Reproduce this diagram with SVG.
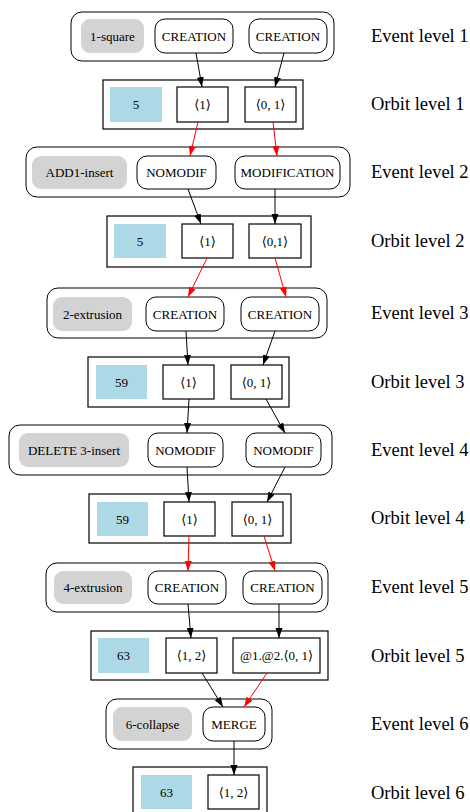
<svg xmlns="http://www.w3.org/2000/svg" width="470" height="812" viewBox="0 0 470 812">
  <style>
    text { font-family: "Liberation Serif", "DejaVu Serif", serif; fill: #000; }
    .t { font-size: 13px; text-anchor: middle; dominant-baseline: central; }
    .lvl { font-size: 18.5px; }
    .ev { fill: #fff; stroke: #000; stroke-width: 1; }
    .orb { fill: #fff; stroke: #000; stroke-width: 1.2; }
    .op { fill: #d3d3d3; stroke: none; }
    .dart { fill: #fff; stroke: #000; stroke-width: 1; }
    .cnt { fill: #add8e6; stroke: none; }
    .item { fill: #fff; stroke: #000; stroke-width: 1.2; }
    .k { stroke: #000; stroke-width: 1; fill: none; marker-end: url(#ak); }
    .r { stroke: #ff0000; stroke-width: 1; fill: none; marker-end: url(#ar); }
  </style>
  <defs>
    <marker id="ak" markerUnits="userSpaceOnUse" markerWidth="10" markerHeight="8" refX="10" refY="3.5" orient="auto">
      <path d="M0,0 L10,3.5 L0,7 z" fill="#000"/>
    </marker>
    <marker id="ar" markerUnits="userSpaceOnUse" markerWidth="10" markerHeight="8" refX="10" refY="3.5" orient="auto">
      <path d="M0,0 L10,3.5 L0,7 z" fill="#ff0000"/>
    </marker>
  </defs>
  <rect width="470" height="812" fill="#fff"/>

  <!-- event level 1 -->
  <g id="event1">
    <rect class="ev" x="71" y="12" width="263" height="49" rx="11"/>
    <g id="e1_op"><rect class="op" x="81" y="19" width="63" height="34" rx="9"/><text class="t" x="112.5" y="36" fill="#222">1-square</text></g>
    <g id="e1_a"><rect class="dart" x="155" y="19" width="78" height="34" rx="10"/><text class="t" x="194" y="36">CREATION</text></g>
    <g id="e1_b"><rect class="dart" x="249" y="19" width="78" height="34" rx="10"/><text class="t" x="288" y="36">CREATION</text></g>
  </g>

  <!-- orbit level 1 -->
  <g id="orbit1">
    <rect class="orb" x="103" y="80" width="200" height="49"/>
    <g id="o1_n"><rect class="cnt" x="110" y="87" width="52" height="35"/><text class="t" x="136" y="104.5">5</text></g>
    <g id="o1_a"><rect class="item" x="177" y="87" width="51" height="35"/><text class="t" x="202.5" y="104.5">⟨1⟩</text></g>
    <g id="o1_b"><rect class="item" x="245" y="87" width="51" height="35"/><text class="t" x="270.5" y="104.5">⟨0, 1⟩</text></g>
  </g>

  <!-- event level 2 -->
  <g id="event2">
    <rect class="ev" x="26" y="147" width="324" height="50" rx="11"/>
    <g id="e2_op"><rect class="op" x="32" y="156" width="95" height="33" rx="9"/><text class="t" x="79.5" y="172.5" fill="#222">ADD1-insert</text></g>
    <g id="e2_a"><rect class="dart" x="137" y="156" width="79" height="33" rx="10"/><text class="t" x="176.5" y="172.5">NOMODIF</text></g>
    <g id="e2_b"><rect class="dart" x="235" y="156" width="105" height="33" rx="10"/><text class="t" x="287.5" y="172.5">MODIFICATION</text></g>
  </g>

  <!-- orbit level 2 -->
  <g id="orbit2">
    <rect class="orb" x="107" y="216" width="204" height="51"/>
    <g id="o2_n"><rect class="cnt" x="114" y="224" width="52" height="34"/><text class="t" x="140" y="241">5</text></g>
    <g id="o2_a"><rect class="item" x="182" y="224" width="51" height="34"/><text class="t" x="207.5" y="241">⟨1⟩</text></g>
    <g id="o2_b"><rect class="item" x="249" y="224" width="52" height="34"/><text class="t" x="275" y="241">⟨0,1⟩</text></g>
  </g>

  <!-- event level 3 -->
  <g id="event3">
    <rect class="ev" x="47" y="288" width="280" height="50" rx="11"/>
    <g id="e3_op"><rect class="op" x="53" y="297" width="79" height="34" rx="9"/><text class="t" x="92.5" y="314" fill="#222">2-extrusion</text></g>
    <g id="e3_a"><rect class="dart" x="146" y="297" width="78" height="34" rx="10"/><text class="t" x="185" y="314">CREATION</text></g>
    <g id="e3_b"><rect class="dart" x="241" y="297" width="78" height="34" rx="10"/><text class="t" x="280" y="314">CREATION</text></g>
  </g>

  <!-- orbit level 3 -->
  <g id="orbit3">
    <rect class="orb" x="88" y="357" width="201" height="50"/>
    <g id="o3_n"><rect class="cnt" x="96" y="365" width="51" height="34"/><text class="t" x="121.5" y="382">59</text></g>
    <g id="o3_a"><rect class="item" x="163" y="365" width="51" height="34"/><text class="t" x="188.5" y="382">⟨1⟩</text></g>
    <g id="o3_b"><rect class="item" x="231" y="365" width="51" height="34"/><text class="t" x="256.5" y="382">⟨0, 1⟩</text></g>
  </g>

  <!-- event level 4 -->
  <g id="event4">
    <rect class="ev" x="9" y="425" width="323" height="50" rx="11"/>
    <g id="e4_op"><rect class="op" x="19" y="433" width="110" height="34" rx="9"/><text class="t" x="74" y="450" fill="#222">DELETE 3-insert</text></g>
    <g id="e4_a"><rect class="dart" x="148" y="433" width="75" height="34" rx="10"/><text class="t" x="185.5" y="450">NOMODIF</text></g>
    <g id="e4_b"><rect class="dart" x="246" y="433" width="75" height="34" rx="10"/><text class="t" x="283.5" y="450">NOMODIF</text></g>
  </g>

  <!-- orbit level 4 -->
  <g id="orbit4">
    <rect class="orb" x="89" y="494" width="202" height="49"/>
    <g id="o4_n"><rect class="cnt" x="97" y="502" width="51" height="34"/><text class="t" x="122.5" y="519">59</text></g>
    <g id="o4_a"><rect class="item" x="164" y="502" width="51" height="34"/><text class="t" x="189.5" y="519">⟨1⟩</text></g>
    <g id="o4_b"><rect class="item" x="232" y="502" width="51" height="34"/><text class="t" x="257.5" y="519">⟨0, 1⟩</text></g>
  </g>

  <!-- event level 5 -->
  <g id="event5">
    <rect class="ev" x="46" y="563" width="282" height="49" rx="11"/>
    <g id="e5_op"><rect class="op" x="54" y="571" width="78" height="33" rx="9"/><text class="t" x="93" y="587.5" fill="#222">4-extrusion</text></g>
    <g id="e5_a"><rect class="dart" x="148" y="571" width="78" height="33" rx="10"/><text class="t" x="187" y="587.5">CREATION</text></g>
    <g id="e5_b"><rect class="dart" x="243" y="571" width="79" height="33" rx="10"/><text class="t" x="282.5" y="587.5">CREATION</text></g>
  </g>

  <!-- orbit level 5 -->
  <g id="orbit5">
    <rect class="orb" x="91" y="631" width="237" height="49"/>
    <g id="o5_n"><rect class="cnt" x="98" y="638" width="51" height="35"/><text class="t" x="123.5" y="655.5">63</text></g>
    <g id="o5_a"><rect class="item" x="166" y="638" width="51" height="35"/><text class="t" x="191.5" y="655.5">⟨1, 2⟩</text></g>
    <g id="o5_b"><rect class="item" x="233" y="638" width="87" height="35"/><text class="t" x="276.5" y="655.5">@1.@2.⟨0, 1⟩</text></g>
  </g>

  <!-- event level 6 -->
  <g id="event6">
    <rect class="ev" x="106" y="699" width="166" height="50" rx="11"/>
    <g id="e6_op"><rect class="op" x="113" y="707" width="79" height="34" rx="9"/><text class="t" x="152.5" y="724" fill="#222">6-collapse</text></g>
    <g id="e6_a"><rect class="dart" x="203" y="707" width="62" height="34" rx="10"/><text class="t" x="234" y="724">MERGE</text></g>
  </g>

  <!-- orbit level 6 -->
  <g id="orbit6">
    <rect class="orb" x="133" y="767" width="134" height="50"/>
    <g id="o6_n"><rect class="cnt" x="141" y="775" width="51" height="34"/><text class="t" x="166.5" y="792">63</text></g>
    <g id="o6_a"><rect class="item" x="208" y="775" width="51" height="34"/><text class="t" x="233.5" y="792">⟨1, 2⟩</text></g>
  </g>

  <!-- connectors -->
  <g id="edges">
    <path class="k" d="M196,53 L202,87"/>
    <path class="k" d="M284,53 L275,87"/>
    <path class="r" d="M198,122 L190,156"/>
    <path class="r" d="M273,122 L277,156"/>
    <path class="k" d="M188,189 L201,224"/>
    <path class="k" d="M275,189 L275,224"/>
    <path class="r" d="M207,258 L188,297"/>
    <path class="r" d="M275,258 L286,297"/>
    <path class="k" d="M186,331 L188,365"/>
    <path class="k" d="M275,331 L263,365"/>
    <path class="k" d="M189,399 L187,433"/>
    <path class="k" d="M266,399 L285,433"/>
    <path class="k" d="M187,467 L189,502"/>
    <path class="k" d="M285,467 L267,502"/>
    <path class="r" d="M189,536 L188,571"/>
    <path class="r" d="M264,536 L275,571"/>
    <path class="k" d="M188,604 L191,638"/>
    <path class="k" d="M279,604 L279,638"/>
    <path class="k" d="M202,673 L223,707"/>
    <path class="r" d="M267,673 L244,707"/>
    <path class="k" d="M234,741 L234,775"/>
  </g>

  <!-- level captions -->
  <g id="captions">
    <text class="lvl" x="371" y="42">Event level 1</text>
    <text class="lvl" x="371" y="110">Orbit level 1</text>
    <text class="lvl" x="371" y="178">Event level 2</text>
    <text class="lvl" x="371" y="247">Orbit level 2</text>
    <text class="lvl" x="371" y="319">Event level 3</text>
    <text class="lvl" x="371" y="388">Orbit level 3</text>
    <text class="lvl" x="371" y="456">Event level 4</text>
    <text class="lvl" x="371" y="524">Orbit level 4</text>
    <text class="lvl" x="371" y="593">Event level 5</text>
    <text class="lvl" x="371" y="662">Orbit level 5</text>
    <text class="lvl" x="371" y="730">Event level 6</text>
    <text class="lvl" x="371" y="799">Orbit level 6</text>
  </g>
</svg>
